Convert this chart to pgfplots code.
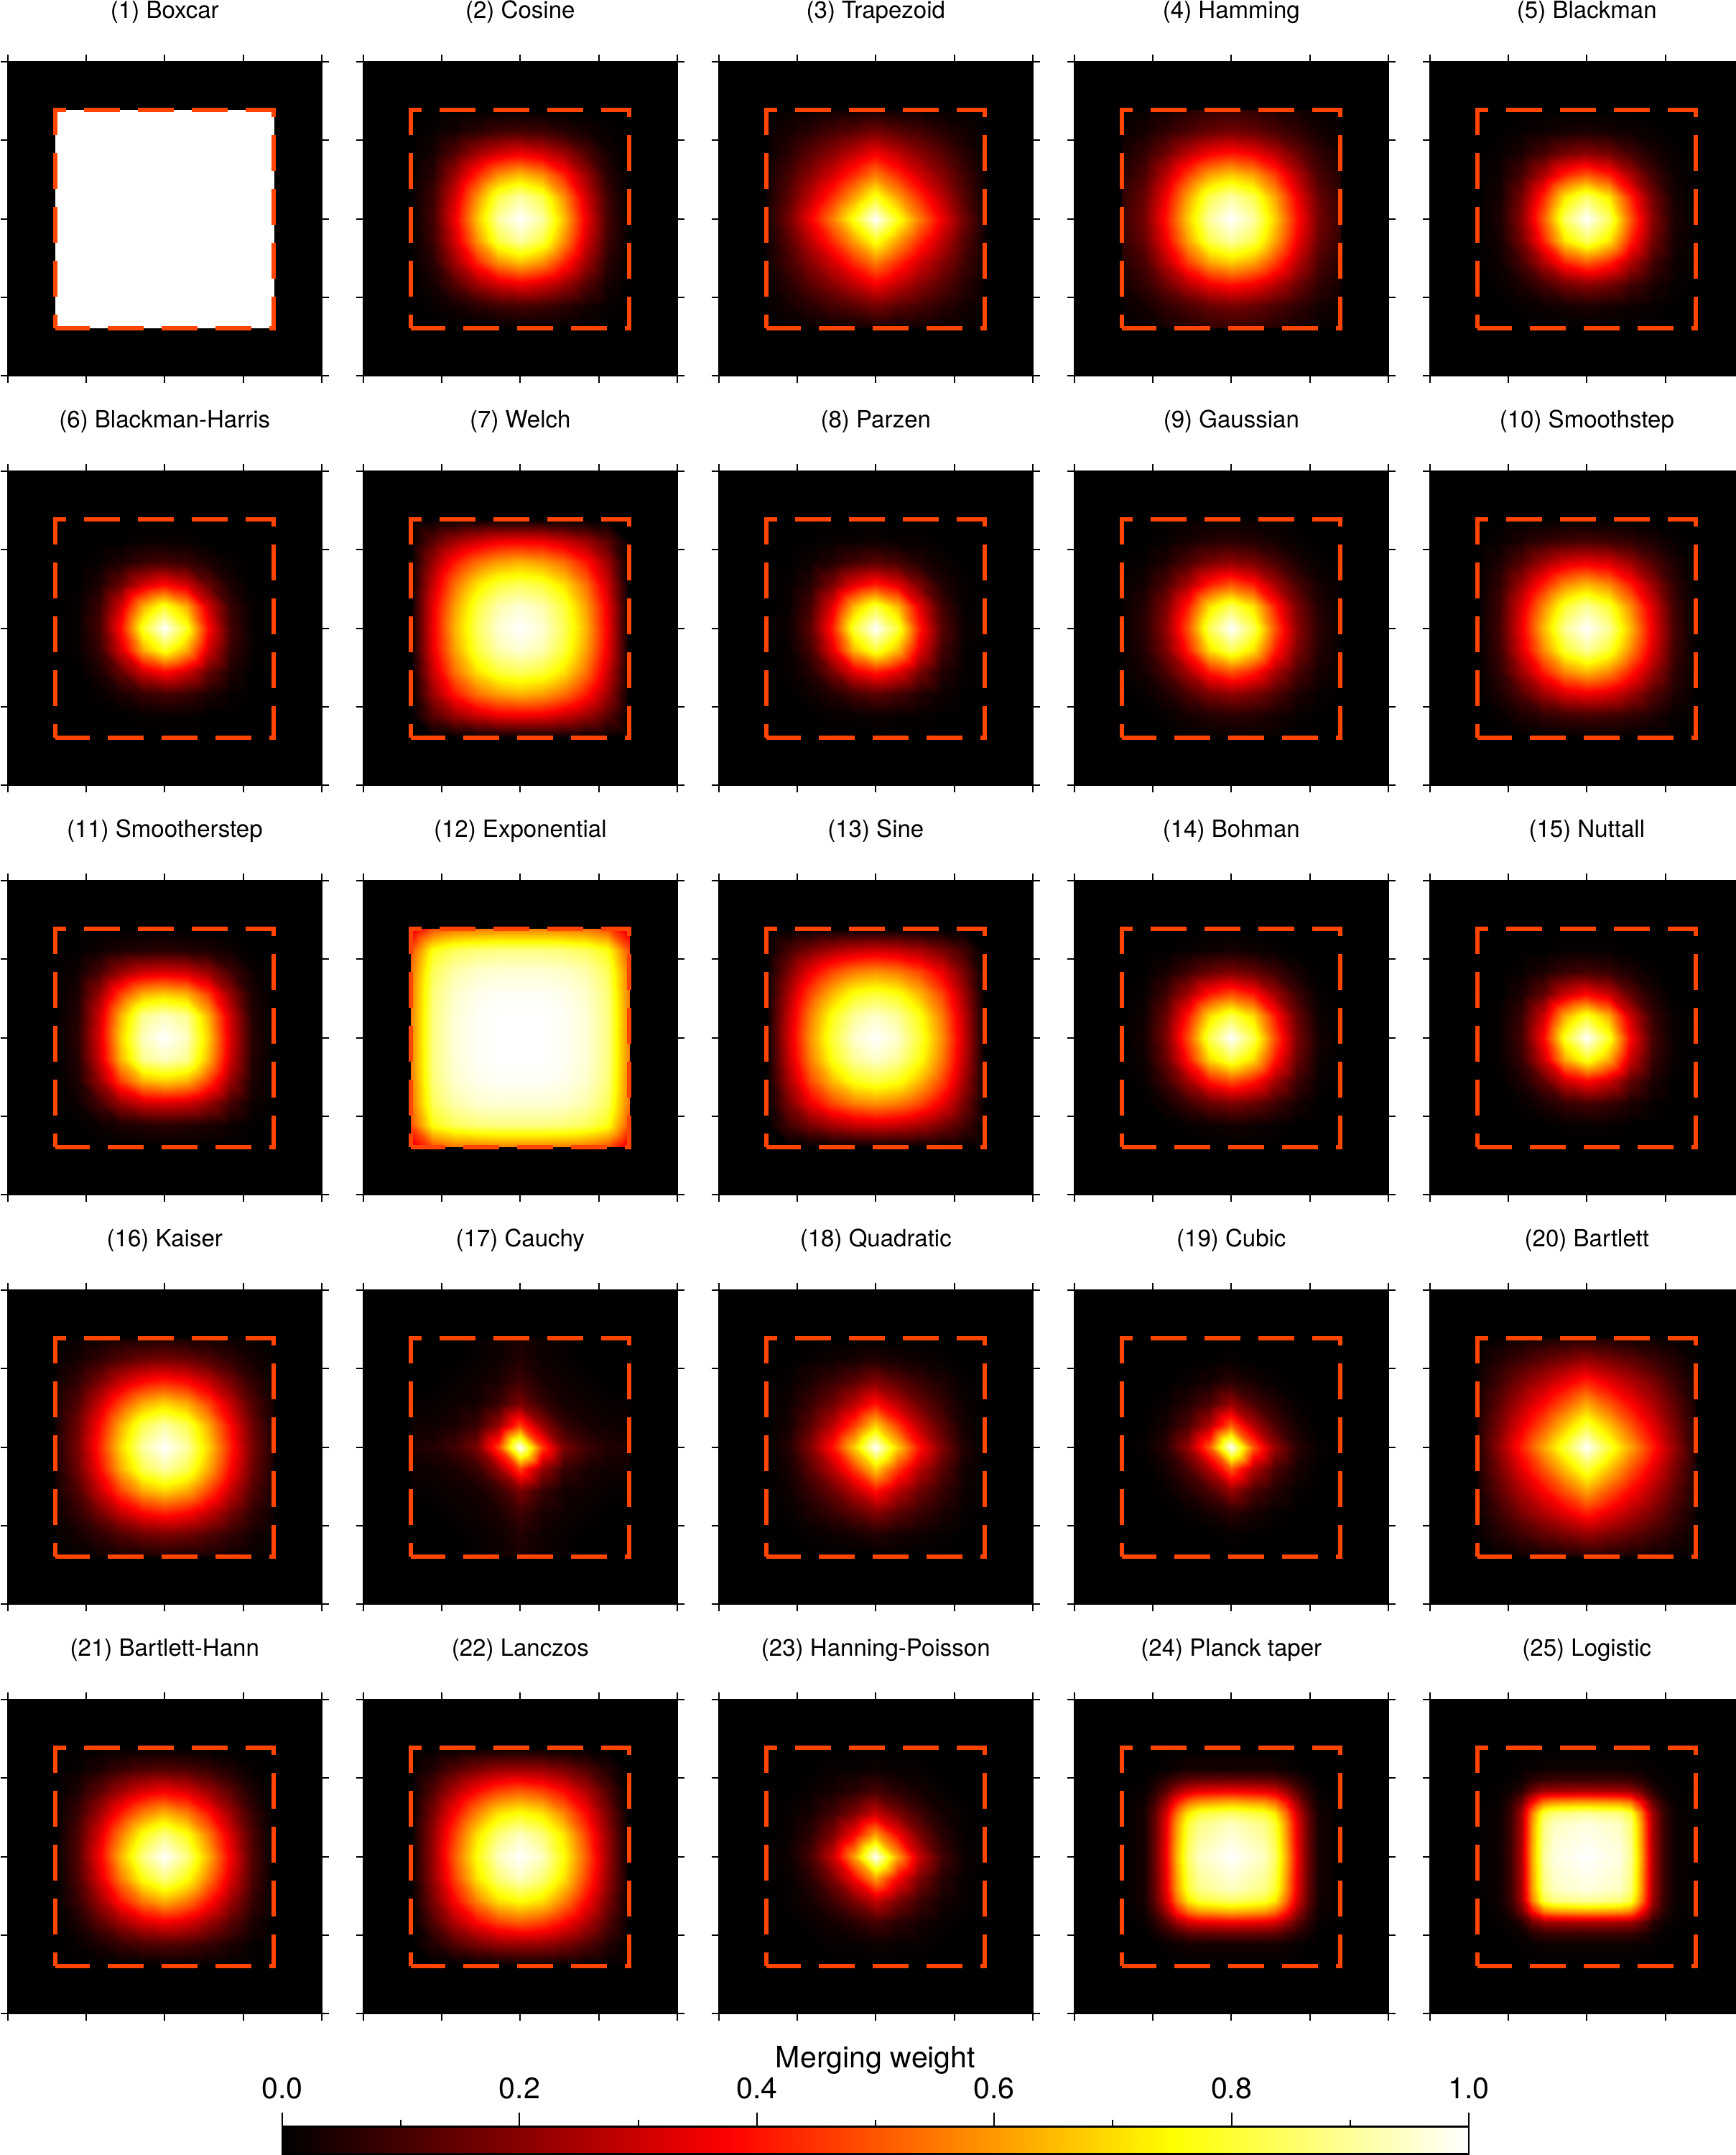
\documentclass[border=0pt]{standalone}
\usepackage{fontspec}
\setmainfont{TeX Gyre Heros}
\usepackage{pgfplots}
\pgfplotsset{compat=1.18}
\usepackage{pgfplotstable}
\definecolor{winorange}{RGB}{255,69,0}
\newcommand{\ttl}{\fontsize{9.4pt}{11pt}\selectfont}
\newcommand{\cbf}{\fontsize{11.7pt}{14pt}\selectfont}
\pgfplotsset{
  colormap={hot}{rgb255(0cm)=(0,0,0) rgb255(3cm)=(255,0,0) rgb255(6cm)=(255,255,0) rgb255(8cm)=(255,255,255)},
  heat/.style={view={0}{90}, hide axis, scale only axis, width=43.7mm, height=43.7mm, anchor=center,
    xmin=-1.4375, xmax=1.4375, ymin=-1.4375, ymax=1.4375, zmin=0, zmax=1,
    colormap name=hot, point meta min=0, point meta max=1},
  frame/.style={scale only axis, width=43.7mm, height=43.7mm, anchor=center,
    xmin=-1.4375, xmax=1.4375, ymin=-1.4375, ymax=1.4375,
    xtick={-1.4375,-0.71875,0,0.71875,1.4375}, ytick={-1.4375,-0.71875,0,0.71875,1.4375},
    xticklabels={}, yticklabels={}, tick align=outside, major tick length=1mm,
    every tick/.style={black, line width=0.2mm}, axis line style={black, line width=0.15mm}},
}
% ---- window weights on an 11 x 11 grid over the window support (rows from y=-1 to y=1)
\pgfplotstableread[header=false,row sep=\\]{
1\\1\\1\\1\\1\\1\\1\\1\\1\\1\\1\\
1\\1\\1\\1\\1\\1\\1\\1\\1\\1\\1\\
1\\1\\1\\1\\1\\1\\1\\1\\1\\1\\1\\
1\\1\\1\\1\\1\\1\\1\\1\\1\\1\\1\\
1\\1\\1\\1\\1\\1\\1\\1\\1\\1\\1\\
1\\1\\1\\1\\1\\1\\1\\1\\1\\1\\1\\
1\\1\\1\\1\\1\\1\\1\\1\\1\\1\\1\\
1\\1\\1\\1\\1\\1\\1\\1\\1\\1\\1\\
1\\1\\1\\1\\1\\1\\1\\1\\1\\1\\1\\
1\\1\\1\\1\\1\\1\\1\\1\\1\\1\\1\\
1\\1\\1\\1\\1\\1\\1\\1\\1\\1\\1\\
}\tA
\pgfplotstableread[header=false,row sep=\\]{
0\\0\\0\\0\\0\\0\\0\\0\\0\\0\\0\\
0\\0.01\\0.03\\0.06\\0.09\\0.1\\0.09\\0.06\\0.03\\0.01\\0\\
0\\0.03\\0.12\\0.23\\0.31\\0.35\\0.31\\0.23\\0.12\\0.03\\0\\
0\\0.06\\0.23\\0.43\\0.59\\0.66\\0.59\\0.43\\0.23\\0.06\\0\\
0\\0.09\\0.31\\0.59\\0.82\\0.91\\0.82\\0.59\\0.31\\0.09\\0\\
0\\0.1\\0.35\\0.66\\0.91\\1\\0.91\\0.66\\0.35\\0.1\\0\\
0\\0.09\\0.31\\0.59\\0.82\\0.91\\0.82\\0.59\\0.31\\0.09\\0\\
0\\0.06\\0.23\\0.43\\0.59\\0.66\\0.59\\0.43\\0.23\\0.06\\0\\
0\\0.03\\0.12\\0.23\\0.31\\0.35\\0.31\\0.23\\0.12\\0.03\\0\\
0\\0.01\\0.03\\0.06\\0.09\\0.1\\0.09\\0.06\\0.03\\0.01\\0\\
0\\0\\0\\0\\0\\0\\0\\0\\0\\0\\0\\
}\tB
\pgfplotstableread[header=false,row sep=\\]{
0\\0.01\\0.01\\0.02\\0.02\\0.03\\0.02\\0.02\\0.01\\0.01\\0\\
0.01\\0.03\\0.06\\0.1\\0.13\\0.17\\0.13\\0.1\\0.06\\0.03\\0.01\\
0.01\\0.06\\0.13\\0.2\\0.28\\0.36\\0.28\\0.2\\0.13\\0.06\\0.01\\
0.02\\0.1\\0.2\\0.31\\0.44\\0.56\\0.44\\0.31\\0.2\\0.1\\0.02\\
0.02\\0.13\\0.28\\0.44\\0.61\\0.78\\0.61\\0.44\\0.28\\0.13\\0.02\\
0.03\\0.17\\0.36\\0.56\\0.78\\1\\0.78\\0.56\\0.36\\0.17\\0.03\\
0.02\\0.13\\0.28\\0.44\\0.61\\0.78\\0.61\\0.44\\0.28\\0.13\\0.02\\
0.02\\0.1\\0.2\\0.31\\0.44\\0.56\\0.44\\0.31\\0.2\\0.1\\0.02\\
0.01\\0.06\\0.13\\0.2\\0.28\\0.36\\0.28\\0.2\\0.13\\0.06\\0.01\\
0.01\\0.03\\0.06\\0.1\\0.13\\0.17\\0.13\\0.1\\0.06\\0.03\\0.01\\
0\\0.01\\0.01\\0.02\\0.02\\0.03\\0.02\\0.02\\0.01\\0.01\\0\\
}\tC
\pgfplotstableread[header=false,row sep=\\]{
0.01\\0.01\\0.03\\0.05\\0.07\\0.08\\0.07\\0.05\\0.03\\0.01\\0.01\\
0.01\\0.03\\0.07\\0.11\\0.15\\0.17\\0.15\\0.11\\0.07\\0.03\\0.01\\
0.03\\0.07\\0.16\\0.27\\0.36\\0.4\\0.36\\0.27\\0.16\\0.07\\0.03\\
0.05\\0.11\\0.27\\0.47\\0.62\\0.68\\0.62\\0.47\\0.27\\0.11\\0.05\\
0.07\\0.15\\0.36\\0.62\\0.83\\0.91\\0.83\\0.62\\0.36\\0.15\\0.07\\
0.08\\0.17\\0.4\\0.68\\0.91\\1\\0.91\\0.68\\0.4\\0.17\\0.08\\
0.07\\0.15\\0.36\\0.62\\0.83\\0.91\\0.83\\0.62\\0.36\\0.15\\0.07\\
0.05\\0.11\\0.27\\0.47\\0.62\\0.68\\0.62\\0.47\\0.27\\0.11\\0.05\\
0.03\\0.07\\0.16\\0.27\\0.36\\0.4\\0.36\\0.27\\0.16\\0.07\\0.03\\
0.01\\0.03\\0.07\\0.11\\0.15\\0.17\\0.15\\0.11\\0.07\\0.03\\0.01\\
0.01\\0.01\\0.03\\0.05\\0.07\\0.08\\0.07\\0.05\\0.03\\0.01\\0.01\\
}\tD
\pgfplotstableread[header=false,row sep=\\]{
0\\0\\0\\0\\0\\0\\0\\0\\0\\0\\0\\
0\\0\\0.01\\0.02\\0.03\\0.04\\0.03\\0.02\\0.01\\0\\0\\
0\\0.01\\0.04\\0.1\\0.17\\0.2\\0.17\\0.1\\0.04\\0.01\\0\\
0\\0.02\\0.1\\0.26\\0.43\\0.51\\0.43\\0.26\\0.1\\0.02\\0\\
0\\0.03\\0.17\\0.43\\0.72\\0.85\\0.72\\0.43\\0.17\\0.03\\0\\
0\\0.04\\0.2\\0.51\\0.85\\1\\0.85\\0.51\\0.2\\0.04\\0\\
0\\0.03\\0.17\\0.43\\0.72\\0.85\\0.72\\0.43\\0.17\\0.03\\0\\
0\\0.02\\0.1\\0.26\\0.43\\0.51\\0.43\\0.26\\0.1\\0.02\\0\\
0\\0.01\\0.04\\0.1\\0.17\\0.2\\0.17\\0.1\\0.04\\0.01\\0\\
0\\0\\0.01\\0.02\\0.03\\0.04\\0.03\\0.02\\0.01\\0\\0\\
0\\0\\0\\0\\0\\0\\0\\0\\0\\0\\0\\
}\tE
\pgfplotstableread[header=false,row sep=\\]{
0\\0\\0\\0\\0\\0\\0\\0\\0\\0\\0\\
0\\0\\0\\0\\0.01\\0.01\\0.01\\0\\0\\0\\0\\
0\\0\\0.01\\0.04\\0.08\\0.1\\0.08\\0.04\\0.01\\0\\0\\
0\\0\\0.04\\0.15\\0.31\\0.39\\0.31\\0.15\\0.04\\0\\0\\
0\\0.01\\0.08\\0.31\\0.63\\0.79\\0.63\\0.31\\0.08\\0.01\\0\\
0\\0.01\\0.1\\0.39\\0.79\\1\\0.79\\0.39\\0.1\\0.01\\0\\
0\\0.01\\0.08\\0.31\\0.63\\0.79\\0.63\\0.31\\0.08\\0.01\\0\\
0\\0\\0.04\\0.15\\0.31\\0.39\\0.31\\0.15\\0.04\\0\\0\\
0\\0\\0.01\\0.04\\0.08\\0.1\\0.08\\0.04\\0.01\\0\\0\\
0\\0\\0\\0\\0.01\\0.01\\0.01\\0\\0\\0\\0\\
0\\0\\0\\0\\0\\0\\0\\0\\0\\0\\0\\
}\tF
\pgfplotstableread[header=false,row sep=\\]{
0\\0\\0\\0\\0\\0\\0\\0\\0\\0\\0\\
0\\0.13\\0.23\\0.3\\0.35\\0.36\\0.35\\0.3\\0.23\\0.13\\0\\
0\\0.23\\0.41\\0.54\\0.61\\0.64\\0.61\\0.54\\0.41\\0.23\\0\\
0\\0.3\\0.54\\0.71\\0.81\\0.84\\0.81\\0.71\\0.54\\0.3\\0\\
0\\0.35\\0.61\\0.81\\0.92\\0.96\\0.92\\0.81\\0.61\\0.35\\0\\
0\\0.36\\0.64\\0.84\\0.96\\1\\0.96\\0.84\\0.64\\0.36\\0\\
0\\0.35\\0.61\\0.81\\0.92\\0.96\\0.92\\0.81\\0.61\\0.35\\0\\
0\\0.3\\0.54\\0.71\\0.81\\0.84\\0.81\\0.71\\0.54\\0.3\\0\\
0\\0.23\\0.41\\0.54\\0.61\\0.64\\0.61\\0.54\\0.41\\0.23\\0\\
0\\0.13\\0.23\\0.3\\0.35\\0.36\\0.35\\0.3\\0.23\\0.13\\0\\
0\\0\\0\\0\\0\\0\\0\\0\\0\\0\\0\\
}\tG
\pgfplotstableread[header=false,row sep=\\]{
0\\0\\0\\0\\0\\0\\0\\0\\0\\0\\0\\
0\\0\\0\\0.01\\0.01\\0.02\\0.01\\0.01\\0\\0\\0\\
0\\0\\0.02\\0.05\\0.1\\0.13\\0.1\\0.05\\0.02\\0\\0\\
0\\0.01\\0.05\\0.18\\0.34\\0.42\\0.34\\0.18\\0.05\\0.01\\0\\
0\\0.01\\0.1\\0.34\\0.65\\0.81\\0.65\\0.34\\0.1\\0.01\\0\\
0\\0.02\\0.13\\0.42\\0.81\\1\\0.81\\0.42\\0.13\\0.02\\0\\
0\\0.01\\0.1\\0.34\\0.65\\0.81\\0.65\\0.34\\0.1\\0.01\\0\\
0\\0.01\\0.05\\0.18\\0.34\\0.42\\0.34\\0.18\\0.05\\0.01\\0\\
0\\0\\0.02\\0.05\\0.1\\0.13\\0.1\\0.05\\0.02\\0\\0\\
0\\0\\0\\0.01\\0.01\\0.02\\0.01\\0.01\\0\\0\\0\\
0\\0\\0\\0\\0\\0\\0\\0\\0\\0\\0\\
}\tH
\pgfplotstableread[header=false,row sep=\\]{
0\\0\\0\\0.01\\0.01\\0.01\\0.01\\0.01\\0\\0\\0\\
0\\0\\0.01\\0.03\\0.05\\0.06\\0.05\\0.03\\0.01\\0\\0\\
0\\0.01\\0.04\\0.11\\0.18\\0.21\\0.18\\0.11\\0.04\\0.01\\0\\
0.01\\0.03\\0.11\\0.25\\0.42\\0.5\\0.42\\0.25\\0.11\\0.03\\0.01\\
0.01\\0.05\\0.18\\0.42\\0.71\\0.84\\0.71\\0.42\\0.18\\0.05\\0.01\\
0.01\\0.06\\0.21\\0.5\\0.84\\1\\0.84\\0.5\\0.21\\0.06\\0.01\\
0.01\\0.05\\0.18\\0.42\\0.71\\0.84\\0.71\\0.42\\0.18\\0.05\\0.01\\
0.01\\0.03\\0.11\\0.25\\0.42\\0.5\\0.42\\0.25\\0.11\\0.03\\0.01\\
0\\0.01\\0.04\\0.11\\0.18\\0.21\\0.18\\0.11\\0.04\\0.01\\0\\
0\\0\\0.01\\0.03\\0.05\\0.06\\0.05\\0.03\\0.01\\0\\0\\
0\\0\\0\\0.01\\0.01\\0.01\\0.01\\0.01\\0\\0\\0\\
}\tI
\pgfplotstableread[header=false,row sep=\\]{
0\\0\\0\\0\\0\\0\\0\\0\\0\\0\\0\\
0\\0.01\\0.04\\0.07\\0.09\\0.1\\0.09\\0.07\\0.04\\0.01\\0\\
0\\0.04\\0.12\\0.23\\0.32\\0.35\\0.32\\0.23\\0.12\\0.04\\0\\
0\\0.07\\0.23\\0.42\\0.58\\0.65\\0.58\\0.42\\0.23\\0.07\\0\\
0\\0.09\\0.32\\0.58\\0.8\\0.9\\0.8\\0.58\\0.32\\0.09\\0\\
0\\0.1\\0.35\\0.65\\0.9\\1\\0.9\\0.65\\0.35\\0.1\\0\\
0\\0.09\\0.32\\0.58\\0.8\\0.9\\0.8\\0.58\\0.32\\0.09\\0\\
0\\0.07\\0.23\\0.42\\0.58\\0.65\\0.58\\0.42\\0.23\\0.07\\0\\
0\\0.04\\0.12\\0.23\\0.32\\0.35\\0.32\\0.23\\0.12\\0.04\\0\\
0\\0.01\\0.04\\0.07\\0.09\\0.1\\0.09\\0.07\\0.04\\0.01\\0\\
0\\0\\0\\0\\0\\0\\0\\0\\0\\0\\0\\
}\tJ
\pgfplotstableread[header=false,row sep=\\]{
0\\0\\0\\0\\0\\0\\0\\0\\0\\0\\0\\
0\\0\\0.02\\0.04\\0.05\\0.06\\0.05\\0.04\\0.02\\0\\0\\
0\\0.02\\0.1\\0.22\\0.3\\0.32\\0.3\\0.22\\0.1\\0.02\\0\\
0\\0.04\\0.22\\0.47\\0.64\\0.68\\0.64\\0.47\\0.22\\0.04\\0\\
0\\0.05\\0.3\\0.64\\0.89\\0.94\\0.89\\0.64\\0.3\\0.05\\0\\
0\\0.06\\0.32\\0.68\\0.94\\1\\0.94\\0.68\\0.32\\0.06\\0\\
0\\0.05\\0.3\\0.64\\0.89\\0.94\\0.89\\0.64\\0.3\\0.05\\0\\
0\\0.04\\0.22\\0.47\\0.64\\0.68\\0.64\\0.47\\0.22\\0.04\\0\\
0\\0.02\\0.1\\0.22\\0.3\\0.32\\0.3\\0.22\\0.1\\0.02\\0\\
0\\0\\0.02\\0.04\\0.05\\0.06\\0.05\\0.04\\0.02\\0\\0\\
0\\0\\0\\0\\0\\0\\0\\0\\0\\0\\0\\
}\tK
\pgfplotstableread[header=false,row sep=\\]{
0.31\\0.49\\0.54\\0.55\\0.56\\0.56\\0.56\\0.55\\0.54\\0.49\\0.31\\
0.49\\0.77\\0.84\\0.87\\0.88\\0.88\\0.88\\0.87\\0.84\\0.77\\0.49\\
0.54\\0.84\\0.92\\0.95\\0.96\\0.96\\0.96\\0.95\\0.92\\0.84\\0.54\\
0.55\\0.87\\0.95\\0.98\\0.99\\0.99\\0.99\\0.98\\0.95\\0.87\\0.55\\
0.56\\0.88\\0.96\\0.99\\1\\1\\1\\0.99\\0.96\\0.88\\0.56\\
0.56\\0.88\\0.96\\0.99\\1\\1\\1\\0.99\\0.96\\0.88\\0.56\\
0.56\\0.88\\0.96\\0.99\\1\\1\\1\\0.99\\0.96\\0.88\\0.56\\
0.55\\0.87\\0.95\\0.98\\0.99\\0.99\\0.99\\0.98\\0.95\\0.87\\0.55\\
0.54\\0.84\\0.92\\0.95\\0.96\\0.96\\0.96\\0.95\\0.92\\0.84\\0.54\\
0.49\\0.77\\0.84\\0.87\\0.88\\0.88\\0.88\\0.87\\0.84\\0.77\\0.49\\
0.31\\0.49\\0.54\\0.55\\0.56\\0.56\\0.56\\0.55\\0.54\\0.49\\0.31\\
}\tL
\pgfplotstableread[header=false,row sep=\\]{
0\\0\\0\\0\\0\\0\\0\\0\\0\\0\\0\\
0\\0.1\\0.18\\0.25\\0.29\\0.31\\0.29\\0.25\\0.18\\0.1\\0\\
0\\0.18\\0.35\\0.48\\0.56\\0.59\\0.56\\0.48\\0.35\\0.18\\0\\
0\\0.25\\0.48\\0.65\\0.77\\0.81\\0.77\\0.65\\0.48\\0.25\\0\\
0\\0.29\\0.56\\0.77\\0.9\\0.95\\0.9\\0.77\\0.56\\0.29\\0\\
0\\0.31\\0.59\\0.81\\0.95\\1\\0.95\\0.81\\0.59\\0.31\\0\\
0\\0.29\\0.56\\0.77\\0.9\\0.95\\0.9\\0.77\\0.56\\0.29\\0\\
0\\0.25\\0.48\\0.65\\0.77\\0.81\\0.77\\0.65\\0.48\\0.25\\0\\
0\\0.18\\0.35\\0.48\\0.56\\0.59\\0.56\\0.48\\0.35\\0.18\\0\\
0\\0.1\\0.18\\0.25\\0.29\\0.31\\0.29\\0.25\\0.18\\0.1\\0\\
0\\0\\0\\0\\0\\0\\0\\0\\0\\0\\0\\
}\tM
\pgfplotstableread[header=false,row sep=\\]{
0\\0\\0\\0\\0\\0\\0\\0\\0\\0\\0\\
0\\0\\0\\0.01\\0.02\\0.03\\0.02\\0.01\\0\\0\\0\\
0\\0\\0.03\\0.09\\0.15\\0.18\\0.15\\0.09\\0.03\\0\\0\\
0\\0.01\\0.09\\0.24\\0.41\\0.49\\0.41\\0.24\\0.09\\0.01\\0\\
0\\0.02\\0.15\\0.41\\0.7\\0.83\\0.7\\0.41\\0.15\\0.02\\0\\
0\\0.03\\0.18\\0.49\\0.83\\1\\0.83\\0.49\\0.18\\0.03\\0\\
0\\0.02\\0.15\\0.41\\0.7\\0.83\\0.7\\0.41\\0.15\\0.02\\0\\
0\\0.01\\0.09\\0.24\\0.41\\0.49\\0.41\\0.24\\0.09\\0.01\\0\\
0\\0\\0.03\\0.09\\0.15\\0.18\\0.15\\0.09\\0.03\\0\\0\\
0\\0\\0\\0.01\\0.02\\0.03\\0.02\\0.01\\0\\0\\0\\
0\\0\\0\\0\\0\\0\\0\\0\\0\\0\\0\\
}\tN
\pgfplotstableread[header=false,row sep=\\]{
0\\0\\0\\0\\0\\0\\0\\0\\0\\0\\0\\
0\\0\\0\\0\\0.01\\0.01\\0.01\\0\\0\\0\\0\\
0\\0\\0.01\\0.04\\0.08\\0.1\\0.08\\0.04\\0.01\\0\\0\\
0\\0\\0.04\\0.14\\0.3\\0.38\\0.3\\0.14\\0.04\\0\\0\\
0\\0.01\\0.08\\0.3\\0.63\\0.79\\0.63\\0.3\\0.08\\0.01\\0\\
0\\0.01\\0.1\\0.38\\0.79\\1\\0.79\\0.38\\0.1\\0.01\\0\\
0\\0.01\\0.08\\0.3\\0.63\\0.79\\0.63\\0.3\\0.08\\0.01\\0\\
0\\0\\0.04\\0.14\\0.3\\0.38\\0.3\\0.14\\0.04\\0\\0\\
0\\0\\0.01\\0.04\\0.08\\0.1\\0.08\\0.04\\0.01\\0\\0\\
0\\0\\0\\0\\0.01\\0.01\\0.01\\0\\0\\0\\0\\
0\\0\\0\\0\\0\\0\\0\\0\\0\\0\\0\\
}\tO
\pgfplotstableread[header=false,row sep=\\]{
0\\0.01\\0.02\\0.03\\0.03\\0.04\\0.03\\0.03\\0.02\\0.01\\0\\
0.01\\0.03\\0.07\\0.12\\0.16\\0.18\\0.16\\0.12\\0.07\\0.03\\0.01\\
0.02\\0.07\\0.17\\0.29\\0.38\\0.42\\0.38\\0.29\\0.17\\0.07\\0.02\\
0.03\\0.12\\0.29\\0.48\\0.63\\0.69\\0.63\\0.48\\0.29\\0.12\\0.03\\
0.03\\0.16\\0.38\\0.63\\0.83\\0.91\\0.83\\0.63\\0.38\\0.16\\0.03\\
0.04\\0.18\\0.42\\0.69\\0.91\\1\\0.91\\0.69\\0.42\\0.18\\0.04\\
0.03\\0.16\\0.38\\0.63\\0.83\\0.91\\0.83\\0.63\\0.38\\0.16\\0.03\\
0.03\\0.12\\0.29\\0.48\\0.63\\0.69\\0.63\\0.48\\0.29\\0.12\\0.03\\
0.02\\0.07\\0.17\\0.29\\0.38\\0.42\\0.38\\0.29\\0.17\\0.07\\0.02\\
0.01\\0.03\\0.07\\0.12\\0.16\\0.18\\0.16\\0.12\\0.07\\0.03\\0.01\\
0\\0.01\\0.02\\0.03\\0.03\\0.04\\0.03\\0.03\\0.02\\0.01\\0\\
}\tP
\pgfplotstableread[header=false,row sep=\\]{
0\\0\\0\\0.01\\0.02\\0.04\\0.02\\0.01\\0\\0\\0\\
0\\0\\0\\0.01\\0.02\\0.05\\0.02\\0.01\\0\\0\\0\\
0\\0\\0.01\\0.02\\0.04\\0.09\\0.04\\0.02\\0.01\\0\\0\\
0.01\\0.01\\0.02\\0.03\\0.08\\0.18\\0.08\\0.03\\0.02\\0.01\\0.01\\
0.02\\0.02\\0.04\\0.08\\0.22\\0.47\\0.22\\0.08\\0.04\\0.02\\0.02\\
0.04\\0.05\\0.09\\0.18\\0.47\\1\\0.47\\0.18\\0.09\\0.05\\0.04\\
0.02\\0.02\\0.04\\0.08\\0.22\\0.47\\0.22\\0.08\\0.04\\0.02\\0.02\\
0.01\\0.01\\0.02\\0.03\\0.08\\0.18\\0.08\\0.03\\0.02\\0.01\\0.01\\
0\\0\\0.01\\0.02\\0.04\\0.09\\0.04\\0.02\\0.01\\0\\0\\
0\\0\\0\\0.01\\0.02\\0.05\\0.02\\0.01\\0\\0\\0\\
0\\0\\0\\0.01\\0.02\\0.04\\0.02\\0.01\\0\\0\\0\\
}\tQ
\pgfplotstableread[header=false,row sep=\\]{
0\\0\\0\\0\\0\\0\\0\\0\\0\\0\\0\\
0\\0\\0.01\\0.02\\0.03\\0.05\\0.03\\0.02\\0.01\\0\\0\\
0\\0.01\\0.04\\0.08\\0.13\\0.19\\0.13\\0.08\\0.04\\0.01\\0\\
0\\0.02\\0.08\\0.16\\0.27\\0.4\\0.27\\0.16\\0.08\\0.02\\0\\
0\\0.03\\0.13\\0.27\\0.46\\0.68\\0.46\\0.27\\0.13\\0.03\\0\\
0\\0.05\\0.19\\0.4\\0.68\\1\\0.68\\0.4\\0.19\\0.05\\0\\
0\\0.03\\0.13\\0.27\\0.46\\0.68\\0.46\\0.27\\0.13\\0.03\\0\\
0\\0.02\\0.08\\0.16\\0.27\\0.4\\0.27\\0.16\\0.08\\0.02\\0\\
0\\0.01\\0.04\\0.08\\0.13\\0.19\\0.13\\0.08\\0.04\\0.01\\0\\
0\\0\\0.01\\0.02\\0.03\\0.05\\0.03\\0.02\\0.01\\0\\0\\
0\\0\\0\\0\\0\\0\\0\\0\\0\\0\\0\\
}\tR
\pgfplotstableread[header=false,row sep=\\]{
0\\0\\0\\0\\0\\0\\0\\0\\0\\0\\0\\
0\\0\\0\\0\\0\\0.01\\0\\0\\0\\0\\0\\
0\\0\\0\\0.01\\0.03\\0.06\\0.03\\0.01\\0\\0\\0\\
0\\0\\0.01\\0.05\\0.11\\0.22\\0.11\\0.05\\0.01\\0\\0\\
0\\0\\0.03\\0.11\\0.26\\0.51\\0.26\\0.11\\0.03\\0\\0\\
0\\0.01\\0.06\\0.22\\0.51\\1\\0.51\\0.22\\0.06\\0.01\\0\\
0\\0\\0.03\\0.11\\0.26\\0.51\\0.26\\0.11\\0.03\\0\\0\\
0\\0\\0.01\\0.05\\0.11\\0.22\\0.11\\0.05\\0.01\\0\\0\\
0\\0\\0\\0.01\\0.03\\0.06\\0.03\\0.01\\0\\0\\0\\
0\\0\\0\\0\\0\\0.01\\0\\0\\0\\0\\0\\
0\\0\\0\\0\\0\\0\\0\\0\\0\\0\\0\\
}\tS
\pgfplotstableread[header=false,row sep=\\]{
0\\0.01\\0.02\\0.03\\0.04\\0.05\\0.04\\0.03\\0.02\\0.01\\0\\
0.01\\0.05\\0.09\\0.14\\0.18\\0.22\\0.18\\0.14\\0.09\\0.05\\0.01\\
0.02\\0.09\\0.18\\0.26\\0.34\\0.42\\0.34\\0.26\\0.18\\0.09\\0.02\\
0.03\\0.14\\0.26\\0.38\\0.5\\0.62\\0.5\\0.38\\0.26\\0.14\\0.03\\
0.04\\0.18\\0.34\\0.5\\0.66\\0.81\\0.66\\0.5\\0.34\\0.18\\0.04\\
0.05\\0.22\\0.42\\0.62\\0.81\\1\\0.81\\0.62\\0.42\\0.22\\0.05\\
0.04\\0.18\\0.34\\0.5\\0.66\\0.81\\0.66\\0.5\\0.34\\0.18\\0.04\\
0.03\\0.14\\0.26\\0.38\\0.5\\0.62\\0.5\\0.38\\0.26\\0.14\\0.03\\
0.02\\0.09\\0.18\\0.26\\0.34\\0.42\\0.34\\0.26\\0.18\\0.09\\0.02\\
0.01\\0.05\\0.09\\0.14\\0.18\\0.22\\0.18\\0.14\\0.09\\0.05\\0.01\\
0\\0.01\\0.02\\0.03\\0.04\\0.05\\0.04\\0.03\\0.02\\0.01\\0\\
}\tT
\pgfplotstableread[header=false,row sep=\\]{
0\\0\\0\\0\\0\\0\\0\\0\\0\\0\\0\\
0\\0.01\\0.04\\0.08\\0.11\\0.12\\0.11\\0.08\\0.04\\0.01\\0\\
0\\0.04\\0.13\\0.23\\0.32\\0.36\\0.32\\0.23\\0.13\\0.04\\0\\
0\\0.08\\0.23\\0.41\\0.56\\0.64\\0.56\\0.41\\0.23\\0.08\\0\\
0\\0.11\\0.32\\0.56\\0.77\\0.88\\0.77\\0.56\\0.32\\0.11\\0\\
0\\0.12\\0.36\\0.64\\0.88\\1\\0.88\\0.64\\0.36\\0.12\\0\\
0\\0.11\\0.32\\0.56\\0.77\\0.88\\0.77\\0.56\\0.32\\0.11\\0\\
0\\0.08\\0.23\\0.41\\0.56\\0.64\\0.56\\0.41\\0.23\\0.08\\0\\
0\\0.04\\0.13\\0.23\\0.32\\0.36\\0.32\\0.23\\0.13\\0.04\\0\\
0\\0.01\\0.04\\0.08\\0.11\\0.12\\0.11\\0.08\\0.04\\0.01\\0\\
0\\0\\0\\0\\0\\0\\0\\0\\0\\0\\0\\
}\tU
\pgfplotstableread[header=false,row sep=\\]{
0\\0\\0\\0\\0\\0\\0\\0\\0\\0\\0\\
0\\0.05\\0.12\\0.18\\0.22\\0.23\\0.22\\0.18\\0.12\\0.05\\0\\
0\\0.12\\0.26\\0.38\\0.47\\0.51\\0.47\\0.38\\0.26\\0.12\\0\\
0\\0.18\\0.38\\0.57\\0.71\\0.76\\0.71\\0.57\\0.38\\0.18\\0\\
0\\0.22\\0.47\\0.71\\0.87\\0.94\\0.87\\0.71\\0.47\\0.22\\0\\
0\\0.23\\0.51\\0.76\\0.94\\1\\0.94\\0.76\\0.51\\0.23\\0\\
0\\0.22\\0.47\\0.71\\0.87\\0.94\\0.87\\0.71\\0.47\\0.22\\0\\
0\\0.18\\0.38\\0.57\\0.71\\0.76\\0.71\\0.57\\0.38\\0.18\\0\\
0\\0.12\\0.26\\0.38\\0.47\\0.51\\0.47\\0.38\\0.26\\0.12\\0\\
0\\0.05\\0.12\\0.18\\0.22\\0.23\\0.22\\0.18\\0.12\\0.05\\0\\
0\\0\\0\\0\\0\\0\\0\\0\\0\\0\\0\\
}\tV
\pgfplotstableread[header=false,row sep=\\]{
0\\0\\0\\0\\0\\0\\0\\0\\0\\0\\0\\
0\\0\\0\\0.01\\0.01\\0.02\\0.01\\0.01\\0\\0\\0\\
0\\0\\0.01\\0.03\\0.06\\0.1\\0.06\\0.03\\0.01\\0\\0\\
0\\0.01\\0.03\\0.09\\0.18\\0.29\\0.18\\0.09\\0.03\\0.01\\0\\
0\\0.01\\0.06\\0.18\\0.37\\0.61\\0.37\\0.18\\0.06\\0.01\\0\\
0\\0.02\\0.1\\0.29\\0.61\\1\\0.61\\0.29\\0.1\\0.02\\0\\
0\\0.01\\0.06\\0.18\\0.37\\0.61\\0.37\\0.18\\0.06\\0.01\\0\\
0\\0.01\\0.03\\0.09\\0.18\\0.29\\0.18\\0.09\\0.03\\0.01\\0\\
0\\0\\0.01\\0.03\\0.06\\0.1\\0.06\\0.03\\0.01\\0\\0\\
0\\0\\0\\0.01\\0.01\\0.02\\0.01\\0.01\\0\\0\\0\\
0\\0\\0\\0\\0\\0\\0\\0\\0\\0\\0\\
}\tW
% ---- Planck taper and Logistic on a finer 15 x 15 grid (x y weight)
\pgfplotstableread[header=false,row sep=\\]{
-1 -1 0\\ -0.8 -1 0\\ -0.7 -1 0\\ -0.6 -1 0\\ -0.5 -1 0\\ -0.4 -1 0\\ -0.3 -1 0\\ 0 -1 0\\ 0.3 -1 0\\ 0.4 -1 0\\ 0.5 -1 0\\ 0.6 -1 0\\ 0.7 -1 0\\ 0.8 -1 0\\ 1 -1 0\\
-1 -0.8 0\\ -0.8 -0.8 0\\ -0.7 -0.8 0\\ -0.6 -0.8 0.01\\ -0.5 -0.8 0.02\\ -0.4 -0.8 0.03\\ -0.3 -0.8 0.03\\ 0 -0.8 0.03\\ 0.3 -0.8 0.03\\ 0.4 -0.8 0.03\\ 0.5 -0.8 0.02\\ 0.6 -0.8 0.01\\ 0.7 -0.8 0\\ 0.8 -0.8 0\\ 1 -0.8 0\\
-1 -0.7 0\\ -0.8 -0.7 0\\ -0.7 -0.7 0.03\\ -0.6 -0.7 0.06\\ -0.5 -0.7 0.1\\ -0.4 -0.7 0.14\\ -0.3 -0.7 0.15\\ 0 -0.7 0.16\\ 0.3 -0.7 0.15\\ 0.4 -0.7 0.14\\ 0.5 -0.7 0.1\\ 0.6 -0.7 0.06\\ 0.7 -0.7 0.03\\ 0.8 -0.7 0\\ 1 -0.7 0\\
-1 -0.6 0\\ -0.8 -0.6 0.01\\ -0.7 -0.6 0.06\\ -0.6 -0.6 0.13\\ -0.5 -0.6 0.23\\ -0.4 -0.6 0.31\\ -0.3 -0.6 0.34\\ 0 -0.6 0.36\\ 0.3 -0.6 0.34\\ 0.4 -0.6 0.31\\ 0.5 -0.6 0.23\\ 0.6 -0.6 0.13\\ 0.7 -0.6 0.06\\ 0.8 -0.6 0.01\\ 1 -0.6 0\\
-1 -0.5 0\\ -0.8 -0.5 0.02\\ -0.7 -0.5 0.1\\ -0.6 -0.5 0.23\\ -0.5 -0.5 0.41\\ -0.4 -0.5 0.54\\ -0.3 -0.5 0.6\\ 0 -0.5 0.64\\ 0.3 -0.5 0.6\\ 0.4 -0.5 0.54\\ 0.5 -0.5 0.41\\ 0.6 -0.5 0.23\\ 0.7 -0.5 0.1\\ 0.8 -0.5 0.02\\ 1 -0.5 0\\
-1 -0.4 0\\ -0.8 -0.4 0.03\\ -0.7 -0.4 0.14\\ -0.6 -0.4 0.31\\ -0.5 -0.4 0.54\\ -0.4 -0.4 0.72\\ -0.3 -0.4 0.8\\ 0 -0.4 0.85\\ 0.3 -0.4 0.8\\ 0.4 -0.4 0.72\\ 0.5 -0.4 0.54\\ 0.6 -0.4 0.31\\ 0.7 -0.4 0.14\\ 0.8 -0.4 0.03\\ 1 -0.4 0\\
-1 -0.3 0\\ -0.8 -0.3 0.03\\ -0.7 -0.3 0.15\\ -0.6 -0.3 0.34\\ -0.5 -0.3 0.6\\ -0.4 -0.3 0.8\\ -0.3 -0.3 0.88\\ 0 -0.3 0.94\\ 0.3 -0.3 0.88\\ 0.4 -0.3 0.8\\ 0.5 -0.3 0.6\\ 0.6 -0.3 0.34\\ 0.7 -0.3 0.15\\ 0.8 -0.3 0.03\\ 1 -0.3 0\\
-1 0 0\\ -0.8 0 0.03\\ -0.7 0 0.16\\ -0.6 0 0.36\\ -0.5 0 0.64\\ -0.4 0 0.85\\ -0.3 0 0.94\\ 0 0 1\\ 0.3 0 0.94\\ 0.4 0 0.85\\ 0.5 0 0.64\\ 0.6 0 0.36\\ 0.7 0 0.16\\ 0.8 0 0.03\\ 1 0 0\\
-1 0.3 0\\ -0.8 0.3 0.03\\ -0.7 0.3 0.15\\ -0.6 0.3 0.34\\ -0.5 0.3 0.6\\ -0.4 0.3 0.8\\ -0.3 0.3 0.88\\ 0 0.3 0.94\\ 0.3 0.3 0.88\\ 0.4 0.3 0.8\\ 0.5 0.3 0.6\\ 0.6 0.3 0.34\\ 0.7 0.3 0.15\\ 0.8 0.3 0.03\\ 1 0.3 0\\
-1 0.4 0\\ -0.8 0.4 0.03\\ -0.7 0.4 0.14\\ -0.6 0.4 0.31\\ -0.5 0.4 0.54\\ -0.4 0.4 0.72\\ -0.3 0.4 0.8\\ 0 0.4 0.85\\ 0.3 0.4 0.8\\ 0.4 0.4 0.72\\ 0.5 0.4 0.54\\ 0.6 0.4 0.31\\ 0.7 0.4 0.14\\ 0.8 0.4 0.03\\ 1 0.4 0\\
-1 0.5 0\\ -0.8 0.5 0.02\\ -0.7 0.5 0.1\\ -0.6 0.5 0.23\\ -0.5 0.5 0.41\\ -0.4 0.5 0.54\\ -0.3 0.5 0.6\\ 0 0.5 0.64\\ 0.3 0.5 0.6\\ 0.4 0.5 0.54\\ 0.5 0.5 0.41\\ 0.6 0.5 0.23\\ 0.7 0.5 0.1\\ 0.8 0.5 0.02\\ 1 0.5 0\\
-1 0.6 0\\ -0.8 0.6 0.01\\ -0.7 0.6 0.06\\ -0.6 0.6 0.13\\ -0.5 0.6 0.23\\ -0.4 0.6 0.31\\ -0.3 0.6 0.34\\ 0 0.6 0.36\\ 0.3 0.6 0.34\\ 0.4 0.6 0.31\\ 0.5 0.6 0.23\\ 0.6 0.6 0.13\\ 0.7 0.6 0.06\\ 0.8 0.6 0.01\\ 1 0.6 0\\
-1 0.7 0\\ -0.8 0.7 0\\ -0.7 0.7 0.03\\ -0.6 0.7 0.06\\ -0.5 0.7 0.1\\ -0.4 0.7 0.14\\ -0.3 0.7 0.15\\ 0 0.7 0.16\\ 0.3 0.7 0.15\\ 0.4 0.7 0.14\\ 0.5 0.7 0.1\\ 0.6 0.7 0.06\\ 0.7 0.7 0.03\\ 0.8 0.7 0\\ 1 0.7 0\\
-1 0.8 0\\ -0.8 0.8 0\\ -0.7 0.8 0\\ -0.6 0.8 0.01\\ -0.5 0.8 0.02\\ -0.4 0.8 0.03\\ -0.3 0.8 0.03\\ 0 0.8 0.03\\ 0.3 0.8 0.03\\ 0.4 0.8 0.03\\ 0.5 0.8 0.02\\ 0.6 0.8 0.01\\ 0.7 0.8 0\\ 0.8 0.8 0\\ 1 0.8 0\\
-1 1 0\\ -0.8 1 0\\ -0.7 1 0\\ -0.6 1 0\\ -0.5 1 0\\ -0.4 1 0\\ -0.3 1 0\\ 0 1 0\\ 0.3 1 0\\ 0.4 1 0\\ 0.5 1 0\\ 0.6 1 0\\ 0.7 1 0\\ 0.8 1 0\\ 1 1 0\\
}\tX
\pgfplotstableread[header=false,row sep=\\]{
-1 -1 0\\ -0.8 -1 0\\ -0.7 -1 0\\ -0.6 -1 0\\ -0.5 -1 0\\ -0.4 -1 0\\ -0.3 -1 0\\ 0 -1 0\\ 0.3 -1 0\\ 0.4 -1 0\\ 0.5 -1 0\\ 0.6 -1 0\\ 0.7 -1 0\\ 0.8 -1 0\\ 1 -1 0\\
-1 -0.8 0\\ -0.8 -0.8 0\\ -0.7 -0.8 0\\ -0.6 -0.8 0.01\\ -0.5 -0.8 0.01\\ -0.4 -0.8 0.02\\ -0.3 -0.8 0.02\\ 0 -0.8 0.02\\ 0.3 -0.8 0.02\\ 0.4 -0.8 0.02\\ 0.5 -0.8 0.01\\ 0.6 -0.8 0.01\\ 0.7 -0.8 0\\ 0.8 -0.8 0\\ 1 -0.8 0\\
-1 -0.7 0\\ -0.8 -0.7 0\\ -0.7 -0.7 0.01\\ -0.6 -0.7 0.02\\ -0.5 -0.7 0.06\\ -0.4 -0.7 0.08\\ -0.3 -0.7 0.09\\ 0 -0.7 0.09\\ 0.3 -0.7 0.09\\ 0.4 -0.7 0.08\\ 0.5 -0.7 0.06\\ 0.6 -0.7 0.02\\ 0.7 -0.7 0.01\\ 0.8 -0.7 0\\ 1 -0.7 0\\
-1 -0.6 0\\ -0.8 -0.6 0.01\\ -0.7 -0.6 0.02\\ -0.6 -0.6 0.06\\ -0.5 -0.6 0.16\\ -0.4 -0.6 0.23\\ -0.3 -0.6 0.24\\ 0 -0.6 0.25\\ 0.3 -0.6 0.24\\ 0.4 -0.6 0.23\\ 0.5 -0.6 0.16\\ 0.6 -0.6 0.06\\ 0.7 -0.6 0.02\\ 0.8 -0.6 0.01\\ 1 -0.6 0\\
-1 -0.5 0\\ -0.8 -0.5 0.01\\ -0.7 -0.5 0.06\\ -0.6 -0.5 0.16\\ -0.5 -0.5 0.38\\ -0.4 -0.5 0.56\\ -0.3 -0.5 0.6\\ 0 -0.5 0.62\\ 0.3 -0.5 0.6\\ 0.4 -0.5 0.56\\ 0.5 -0.5 0.38\\ 0.6 -0.5 0.16\\ 0.7 -0.5 0.06\\ 0.8 -0.5 0.01\\ 1 -0.5 0\\
-1 -0.4 0\\ -0.8 -0.4 0.02\\ -0.7 -0.4 0.08\\ -0.6 -0.4 0.23\\ -0.5 -0.4 0.56\\ -0.4 -0.4 0.81\\ -0.3 -0.4 0.87\\ 0 -0.4 0.9\\ 0.3 -0.4 0.87\\ 0.4 -0.4 0.81\\ 0.5 -0.4 0.56\\ 0.6 -0.4 0.23\\ 0.7 -0.4 0.08\\ 0.8 -0.4 0.02\\ 1 -0.4 0\\
-1 -0.3 0\\ -0.8 -0.3 0.02\\ -0.7 -0.3 0.09\\ -0.6 -0.3 0.24\\ -0.5 -0.3 0.6\\ -0.4 -0.3 0.87\\ -0.3 -0.3 0.94\\ 0 -0.3 0.97\\ 0.3 -0.3 0.94\\ 0.4 -0.3 0.87\\ 0.5 -0.3 0.6\\ 0.6 -0.3 0.24\\ 0.7 -0.3 0.09\\ 0.8 -0.3 0.02\\ 1 -0.3 0\\
-1 0 0\\ -0.8 0 0.02\\ -0.7 0 0.09\\ -0.6 0 0.25\\ -0.5 0 0.62\\ -0.4 0 0.9\\ -0.3 0 0.97\\ 0 0 1\\ 0.3 0 0.97\\ 0.4 0 0.9\\ 0.5 0 0.62\\ 0.6 0 0.25\\ 0.7 0 0.09\\ 0.8 0 0.02\\ 1 0 0\\
-1 0.3 0\\ -0.8 0.3 0.02\\ -0.7 0.3 0.09\\ -0.6 0.3 0.24\\ -0.5 0.3 0.6\\ -0.4 0.3 0.87\\ -0.3 0.3 0.94\\ 0 0.3 0.97\\ 0.3 0.3 0.94\\ 0.4 0.3 0.87\\ 0.5 0.3 0.6\\ 0.6 0.3 0.24\\ 0.7 0.3 0.09\\ 0.8 0.3 0.02\\ 1 0.3 0\\
-1 0.4 0\\ -0.8 0.4 0.02\\ -0.7 0.4 0.08\\ -0.6 0.4 0.23\\ -0.5 0.4 0.56\\ -0.4 0.4 0.81\\ -0.3 0.4 0.87\\ 0 0.4 0.9\\ 0.3 0.4 0.87\\ 0.4 0.4 0.81\\ 0.5 0.4 0.56\\ 0.6 0.4 0.23\\ 0.7 0.4 0.08\\ 0.8 0.4 0.02\\ 1 0.4 0\\
-1 0.5 0\\ -0.8 0.5 0.01\\ -0.7 0.5 0.06\\ -0.6 0.5 0.16\\ -0.5 0.5 0.38\\ -0.4 0.5 0.56\\ -0.3 0.5 0.6\\ 0 0.5 0.62\\ 0.3 0.5 0.6\\ 0.4 0.5 0.56\\ 0.5 0.5 0.38\\ 0.6 0.5 0.16\\ 0.7 0.5 0.06\\ 0.8 0.5 0.01\\ 1 0.5 0\\
-1 0.6 0\\ -0.8 0.6 0.01\\ -0.7 0.6 0.02\\ -0.6 0.6 0.06\\ -0.5 0.6 0.16\\ -0.4 0.6 0.23\\ -0.3 0.6 0.24\\ 0 0.6 0.25\\ 0.3 0.6 0.24\\ 0.4 0.6 0.23\\ 0.5 0.6 0.16\\ 0.6 0.6 0.06\\ 0.7 0.6 0.02\\ 0.8 0.6 0.01\\ 1 0.6 0\\
-1 0.7 0\\ -0.8 0.7 0\\ -0.7 0.7 0.01\\ -0.6 0.7 0.02\\ -0.5 0.7 0.06\\ -0.4 0.7 0.08\\ -0.3 0.7 0.09\\ 0 0.7 0.09\\ 0.3 0.7 0.09\\ 0.4 0.7 0.08\\ 0.5 0.7 0.06\\ 0.6 0.7 0.02\\ 0.7 0.7 0.01\\ 0.8 0.7 0\\ 1 0.7 0\\
-1 0.8 0\\ -0.8 0.8 0\\ -0.7 0.8 0\\ -0.6 0.8 0.01\\ -0.5 0.8 0.01\\ -0.4 0.8 0.02\\ -0.3 0.8 0.02\\ 0 0.8 0.02\\ 0.3 0.8 0.02\\ 0.4 0.8 0.02\\ 0.5 0.8 0.01\\ 0.6 0.8 0.01\\ 0.7 0.8 0\\ 0.8 0.8 0\\ 1 0.8 0\\
-1 1 0\\ -0.8 1 0\\ -0.7 1 0\\ -0.6 1 0\\ -0.5 1 0\\ -0.4 1 0\\ -0.3 1 0\\ 0 1 0\\ 0.3 1 0\\ 0.4 1 0\\ 0.5 1 0\\ 0.6 1 0\\ 0.7 1 0\\ 0.8 1 0\\ 1 1 0\\
}\tY
% ---- panel frame: black background, dashed window outline, title
\newcommand{\panelstart}[2]{%
  \pgfmathsetmacro{\pnlx}{22.93+49.5*#1}%
  \pgfmathsetmacro{\pnly}{269.53-57*#2}%
  \pgfmathsetmacro{\pnlxa}{\pnlx-21.85}%
  \pgfmathsetmacro{\pnlya}{\pnly-21.85}%
  \pgfmathsetmacro{\pnlty}{297.46-57*#2}%
  \fill[black] (\pnlxa mm,\pnlya mm) rectangle ++(43.7mm,43.7mm);
}
\newcommand{\panelend}[1]{%
  \begin{axis}[frame, at={(\pnlx mm,\pnly mm)}]
    \addplot[winorange, line width=0.6mm, dash pattern=on 5mm off 2.5mm, dash phase=3.18mm, mark=none]
      coordinates {(-1,-1) (-1,1) (1,1) (1,-1)} -- cycle;
  \end{axis}
  \node[anchor=base, font=\ttl] at (\pnlx mm,\pnlty mm) {#1};
}
% #1 column, #2 row, #3 title, #4 table (11 x 11 weights)
\newcommand{\panel}[4]{%
  \panelstart{#1}{#2}%
  \begin{axis}[heat, at={(\pnlx mm,\pnly mm)}]
    \addplot3[surf, shader=interp, mesh/cols=11]
      table[x index=0, y index=0, z index=0,
            x expr={-1+0.2*mod(\coordindex,11)}, y expr={-1+0.2*floor(\coordindex/11)}] {#4};
  \end{axis}
  \panelend{#3}%
}
% #1 column, #2 row, #3 title, #4 table (x y weight, 15 x 15)
\newcommand{\panelxyz}[4]{%
  \panelstart{#1}{#2}%
  \begin{axis}[heat, at={(\pnlx mm,\pnly mm)}]
    \addplot3[surf, shader=interp, mesh/cols=15] table[x index=0, y index=1, z index=2] {#4};
  \end{axis}
  \panelend{#3}%
}
\begin{document}
\begin{tikzpicture}
\path[use as bounding box] (0,0) rectangle (241.7mm,300mm);
\panel{0}{0}{(1) Boxcar}{\tA}
\panel{1}{0}{(2) Cosine}{\tB}
\panel{2}{0}{(3) Trapezoid}{\tC}
\panel{3}{0}{(4) Hamming}{\tD}
\panel{4}{0}{(5) Blackman}{\tE}
\panel{0}{1}{(6) Blackman-Harris}{\tF}
\panel{1}{1}{(7) Welch}{\tG}
\panel{2}{1}{(8) Parzen}{\tH}
\panel{3}{1}{(9) Gaussian}{\tI}
\panel{4}{1}{(10) Smoothstep}{\tJ}
\panel{0}{2}{(11) Smootherstep}{\tK}
\panel{1}{2}{(12) Exponential}{\tL}
\panel{2}{2}{(13) Sine}{\tM}
\panel{3}{2}{(14) Bohman}{\tN}
\panel{4}{2}{(15) Nuttall}{\tO}
\panel{0}{3}{(16) Kaiser}{\tP}
\panel{1}{3}{(17) Cauchy}{\tQ}
\panel{2}{3}{(18) Quadratic}{\tR}
\panel{3}{3}{(19) Cubic}{\tS}
\panel{4}{3}{(20) Bartlett}{\tT}
\panel{0}{4}{(21) Bartlett-Hann}{\tU}
\panel{1}{4}{(22) Lanczos}{\tV}
\panel{2}{4}{(23) Hanning-Poisson}{\tW}
\panelxyz{3}{4}{(24) Planck taper}{\tX}
\panelxyz{4}{4}{(25) Logistic}{\tY}
% ---- colour bar
\begin{axis}[heat, width=165.2mm, height=3.78mm, at={(121.9mm,2.04mm)}, xmin=0, xmax=1, ymin=0, ymax=1]
  \addplot3[surf, shader=interp, mesh/cols=2] coordinates {(0,0,0) (1,0,1) (0,1,0) (1,1,1)};
\end{axis}
\begin{axis}[scale only axis, width=165.2mm, height=3.78mm, anchor=center, at={(121.9mm,2.04mm)},
  xmin=0, xmax=1, ymin=0, ymax=1, xtick={0,0.2,0.4,0.6,0.8,1}, minor xtick={0.1,0.3,0.5,0.7,0.9},
  ytick=\empty, xtick pos=right, xticklabels={}, tick align=outside, major tick length=2mm, minor tick length=1mm,
  every tick/.style={black, line width=0.2mm}, axis line style={black, line width=0.27mm}]
  \addplot[draw=none, mark=none] coordinates {(0,0) (1,1)};
\end{axis}
\foreach \v/\lab in {0/0.0, 1/0.2, 2/0.4, 3/0.6, 4/0.8, 5/1.0} {
  \node[anchor=base, font=\cbf] at (39.3mm+33.04mm*\v, 7.83mm) {\lab};
}
\node[anchor=base, font=\cbf] at (121.9mm, 12.1mm) {Merging weight};
\end{tikzpicture}
\end{document}
